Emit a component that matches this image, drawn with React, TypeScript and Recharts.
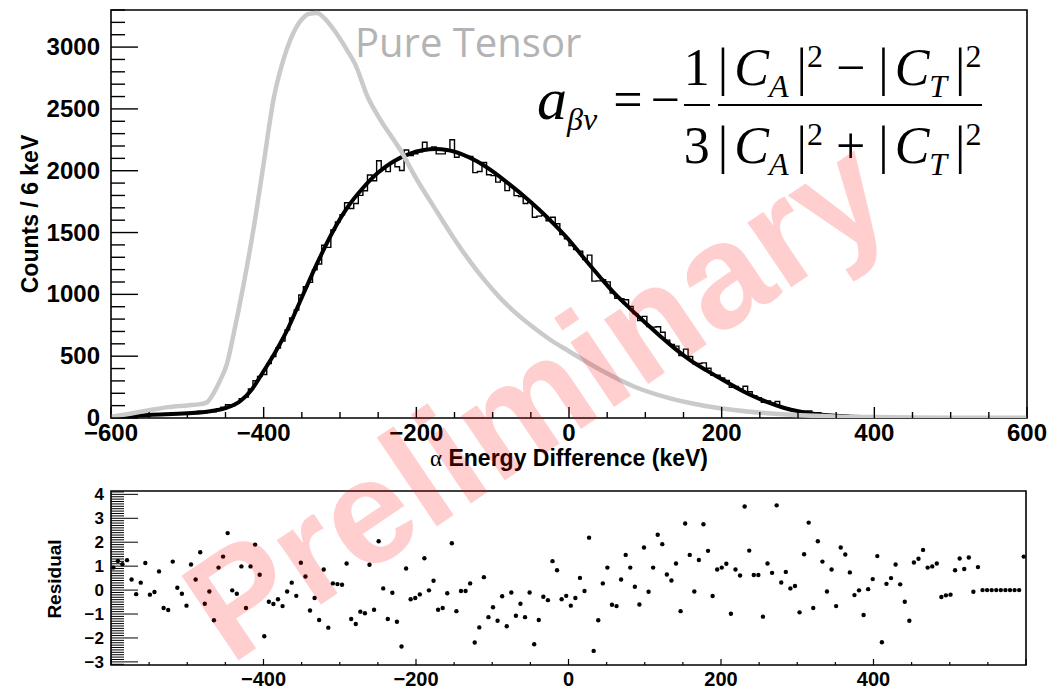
import React from 'react';
import {
  ComposedChart,
  Line,
  Scatter,
  XAxis,
  YAxis,
  ReferenceArea,
} from 'recharts';

// histogram: 6 keV bins, first bin centred at -597 keV
const BIN_START = -597;
const BIN_WIDTH = 6;

const histCounts = [
  8, 11, 13, 17, 17, 17, 21, 28, 24, 27,
  32, 26, 26, 40, 35, 35, 33, 47, 45, 56,
  44, 54, 50, 75, 87, 107, 100, 118, 157, 170,
  235, 301, 337, 352, 440, 497, 566, 623, 713, 809,
  873, 995, 1063, 1097, 1199, 1245, 1397, 1380, 1521, 1585,
  1644, 1741, 1694, 1735, 1801, 1838, 1966, 1919, 2081, 2023,
  1993, 2067, 2032, 2002, 2168, 2122, 2137, 2154, 2230, 2172,
  2193, 2136, 2136, 2161, 2251, 2109, 2133, 2118, 2116, 1985,
  1994, 2066, 1967, 1960, 1908, 1924, 1839, 1871, 1799, 1791,
  1735, 1746, 1624, 1633, 1639, 1596, 1624, 1571, 1483, 1449,
  1394, 1363, 1349, 1282, 1317, 1107, 1109, 1119, 1101, 1010,
  969, 964, 956, 903, 844, 788, 822, 740, 735, 738,
  694, 630, 595, 581, 505, 557, 497, 439, 441, 446,
  402, 345, 346, 323, 304, 248, 256, 234, 257, 212,
  180, 164, 128, 138, 120, 133, 90, 84, 69, 60,
  45, 56, 58, 31, 42, 33, 24, 25, 15, 23,
  20, 15, 10, 9, 5, 7, 7, 8, 0, 4,
  4, 5, 2, 1, 0, 4, 2, 3, 2, 2,
  2, 1, 1, 1, 1, 1, 1, 1, 0, 1,
  0, 0, 0, 0, 0, 0, 0, 0, 0, 1,
];

const residuals = [
  0.94, 1.22, 1.08, 1.25, 0.44, -0.17, 0.31, 1.13, -0.19, -0.08,
  0.78, -0.75, -0.83, 1.19, 0.1, -0.15, -0.65, 1.07, 0.44, 1.58,
  -0.57, -0.06, -1.26, 0.94, 1.4, 2.38, -0.01, -0.15, 0.99, -0.75,
  0.99, 1.9, 0.64, -1.93, -0.49, -0.58, -0.38, -0.67, -0.06, 0.31,
  -0.24, 1.14, 0.57, -0.85, -0.33, -1.25, 0.86, -1.57, 0.28, 0.25,
  0.22, 1.11, -1.21, -1.42, -0.9, -0.97, 1.06, -0.82, 2.04, 0.07,
  -1.21, -0.11, -1.32, -2.36, 0.9, -0.38, -0.33, -0.18, 1.33, -0.01,
  0.39, -0.82, -0.75, -0.13, 1.96, -0.88, -0.04, -0.04, 0.28, -2.19,
  -1.56, 0.54, -1.13, -0.72, -1.28, -0.26, -1.51, -0.1, -1.07, -0.57,
  -1.13, -0.1, -2.26, -1.25, -0.28, -0.42, 1.21, 0.83, -0.38, -0.24,
  -0.65, -0.33, 0.51, -0.04, 2.19, -2.54, -1.26, 0.28, 0.94, -0.61,
  -0.67, 0.44, 1.47, 0.94, 0.14, -0.6, 1.78, -0.07, 0.94, 2.31,
  1.92, 0.65, 0.4, 1.11, -0.88, 2.78, 1.47, -0.06, 1.26, 2.75,
  1.64, -0.25, 0.86, 0.94, 1.1, -0.99, 0.86, 0.61, 3.49, 1.65,
  0.63, 0.63, -1.11, 1.11, 0.72, 3.54, 0.32, 0.76, 0.07, 0.17,
  -0.93, 1.5, 2.82, -0.75, 2.04, 1.19, -0.06, 0.86, -0.67, 1.78,
  1.49, 0.74, -0.21, -0.01, -1.04, 0.04, 0.46, 1.42, -2.18, 0.26,
  0.5, 1.07, 0.24, -0.49, -1.28, 1.15, 1.31, 1.68, 0.94, 0.99,
  1.11, -0.29, -0.22, -0.19, 0.83, 1.32, 0.88, 1.36, -0.07, 0.96,
  0, 0, 0, 0, 0, 0, 0, 0, 0, 1.4,
];

// fitted curve (black)
const fitX = [-600, -550, -500, -470, -450, -430, -415, -400, -385, -370, -350, -330, -310, -290, -270, -250, -230, -210, -190, -175, -160, -140, -120, -100, -80, -60, -40, -20, 0, 20, 40, 60, 80, 100, 120, 140, 160, 180, 200, 220, 240, 260, 280, 300, 320, 350, 400, 450, 500, 600];
const fitY = [5, 25, 38, 55, 80, 140, 235, 380, 530, 700, 975, 1250, 1500, 1705, 1860, 1985, 2075, 2135, 2168, 2175, 2168, 2133, 2075, 1995, 1900, 1800, 1690, 1570, 1440, 1290, 1145, 1005, 885, 770, 660, 555, 462, 385, 313, 243, 180, 128, 85, 55, 35, 18, 5, 1, 0, 0];

// pure tensor prediction (grey)
const tensorX = [-600, -575, -550, -525, -500, -483, -474, -466, -457, -448, -439, -426, -413, -400, -387, -375, -365, -352, -340, -330, -320, -308, -291, -280, -264, -247, -221, -199, -177, -155, -134, -112, -90, -68, -46, -25, 0, 41, 85, 129, 172, 216, 260, 303, 347, 400, 450, 500, 600];
const tensorY = [10, 35, 62, 88, 102, 112, 128, 196, 304, 440, 690, 1090, 1540, 2060, 2580, 2880, 3060, 3210, 3270, 3275, 3230, 3140, 2978, 2860, 2600, 2411, 2168, 1925, 1708, 1493, 1303, 1125, 970, 840, 730, 635, 540, 390, 255, 165, 105, 65, 38, 22, 13, 8, 5, 3, 2];

// axis ticks
const topXTicks = Array.from({ length: 25 }, (_, i) => -600 + 50 * i);
const topYTicks = Array.from({ length: 34 }, (_, i) => 100 * i);
const resXTicks = topXTicks;
const resYTicks = Array.from({ length: 73 }, (_, i) => (i - 31) / 10);

const histData = histCounts.map((c, i) => ({ x: BIN_START + BIN_WIDTH * i, y: c }));
const resData = residuals.map((r, i) => ({ x: BIN_START + BIN_WIDTH * i, r }));
const fitData = fitX.map((x, i) => ({ x, y: fitY[i] }));
const tensorData = tensorX.map((x, i) => ({ x, y: tensorY[i] }));

const SANS = '"Liberation Sans", Arial, Helvetica, sans-serif';
const SERIF = '"Liberation Serif", "Times New Roman", serif';

const fmt = (v: number) => (v < 0 ? `\u2212${Math.abs(v)}` : `${v}`);

const Y_MARGIN = 11;
const X_MARGIN = 6;

const TopYTick = (props: any) => {
  const { x, y, payload } = props;
  const v = payload.value;
  const ax = x + Y_MARGIN;
  const major = v % 500 === 0;
  return (
    <g>
      <line x1={ax} x2={ax + (major ? 27 : 14)} y1={y} y2={y} stroke="#000" strokeWidth={1.4} />
      {major && (
        <text x={x} y={y} dy={8} textAnchor="end" fontSize={24} fontWeight="bold" fontFamily={SANS} fill="#000">
          {v}
        </text>
      )}
    </g>
  );
};

const TopXTick = (props: any) => {
  const { x, y, payload } = props;
  const v = payload.value;
  const ay = y - X_MARGIN;
  const major = v % 200 === 0;
  return (
    <g>
      <line x1={x} x2={x} y1={ay} y2={ay - (major ? 11 : 6)} stroke="#000" strokeWidth={1.4} />
      {major && (
        <text x={x} y={y} dy={17} textAnchor="middle" fontSize={24} fontWeight="bold" fontFamily={SANS} fill="#000">
          {fmt(v)}
        </text>
      )}
    </g>
  );
};

const RES_Y_MARGIN = 7;
const RES_X_MARGIN = 4;

const ResYTick = (props: any) => {
  const { x, y, payload } = props;
  const k = Math.round(payload.value * 10);
  const ax = x + RES_Y_MARGIN;
  const major = k % 10 === 0;
  return (
    <g>
      <line x1={ax} x2={ax + (major ? 27 : 13)} y1={y} y2={y} stroke="#000" strokeWidth={1} />
      {major && (
        <text x={x} y={y} dy={6} textAnchor="end" fontSize={17} fontWeight="bold" fontFamily={SANS} fill="#000">
          {fmt(k / 10)}
        </text>
      )}
    </g>
  );
};

const ResXTick = (props: any) => {
  const { x, y, payload } = props;
  const v = payload.value;
  const ay = y - RES_X_MARGIN;
  const major = v % 200 === 0;
  const labelled = major && Math.abs(v) < 600;
  return (
    <g>
      <line x1={x} x2={x} y1={ay} y2={ay - (major ? 6 : 3)} stroke="#000" strokeWidth={1.2} />
      {labelled && (
        <text x={x} y={y} dy={17} textAnchor="middle" fontSize={20} fontWeight="bold" fontFamily={SANS} fill="#000">
          {fmt(v)}
        </text>
      )}
    </g>
  );
};

const ResDot = (p: any) => <circle cx={p.cx} cy={p.cy} r={2.2} fill="#000" />;

const Frac = ({ num, den }: { num: React.ReactNode; den: React.ReactNode }) => (
  <span style={{ display: 'inline-flex', flexDirection: 'column', alignItems: 'stretch', margin: '0 4px', position: 'relative', top: 8 }}>
    <span style={{ lineHeight: 1, paddingBottom: 10, textAlign: 'center', whiteSpace: 'nowrap' }}>{num}</span>
    <span style={{ lineHeight: 1, paddingTop: 14, borderTop: '2px solid #000', textAlign: 'center', whiteSpace: 'nowrap' }}>{den}</span>
  </span>
);

const Abs = ({ sub }: { sub: string }) => (
  <span>
    |<i style={{ marginLeft: 6 }}>C</i>
    <span style={{ fontSize: 32, fontStyle: 'italic', position: 'relative', top: 12 }}>{sub}</span>
    <span style={{ marginLeft: 8 }}>|</span>
    <span style={{ fontSize: 32, position: 'relative', top: -18 }}>2</span>
  </span>
);

export default function App() {
  return (
    <div style={{ position: 'absolute', left: 0, top: 0, width: 1055, height: 687, background: '#fff', overflow: 'hidden' }}>
      <div style={{ position: 'absolute', left: 0, top: 0 }}>
        <ComposedChart width={1055} height={470} margin={{ top: 10, right: 28, bottom: 22, left: 51 }}>
          <XAxis
            dataKey="x"
            type="number"
            domain={[-600, 600]}
            ticks={topXTicks}
            interval={0}
            height={30}
            tickSize={0}
            tickMargin={X_MARGIN}
            axisLine={false}
            tick={TopXTick}
            allowDataOverflow
          />
          <YAxis
            type="number"
            domain={[0, 3300]}
            ticks={topYTicks}
            interval={0}
            width={60}
            tickSize={0}
            tickMargin={Y_MARGIN}
            axisLine={false}
            tick={TopYTick}
            allowDataOverflow
          />
          <ReferenceArea x1={-600} x2={600} y1={0} y2={3300} fill="none" stroke="#000" strokeWidth={1.6} />
          <Line data={histData} dataKey="y" type="step" stroke="#000" strokeWidth={1.4} dot={false} isAnimationActive={false} />
          <Line data={fitData} dataKey="y" type="monotone" stroke="#000" strokeWidth={4} dot={false} isAnimationActive={false} />
          <Line data={tensorData} dataKey="y" type="monotone" stroke="#cacaca" strokeWidth={4.5} dot={false} isAnimationActive={false} />
        </ComposedChart>
      </div>

      <div style={{ position: 'absolute', left: 0, top: 480 }}>
        <ComposedChart width={1055} height={207} margin={{ top: 11, right: 29, bottom: 0, left: 51 }}>
          <XAxis
            dataKey="x"
            type="number"
            domain={[-600, 600]}
            ticks={resXTicks}
            interval={0}
            height={22}
            tickSize={0}
            tickMargin={RES_X_MARGIN}
            axisLine={false}
            tick={ResXTick}
            allowDataOverflow
          />
          <YAxis
            dataKey="r"
            type="number"
            domain={[-3.13, 4.14]}
            ticks={resYTicks}
            interval={0}
            width={60}
            tickSize={0}
            tickMargin={RES_Y_MARGIN}
            axisLine={false}
            tick={ResYTick}
            allowDataOverflow
          />
          <ReferenceArea x1={-600} x2={600} y1={-3.13} y2={4.14} fill="none" stroke="#000" strokeWidth={1.6} />
          <Scatter data={resData} dataKey="r" shape={ResDot} isAnimationActive={false} />
        </ComposedChart>
      </div>

      {/* axis titles */}
      <div style={{ position: 'absolute', left: 30, top: 214, transform: 'translate(-50%, -50%) rotate(-90deg)', whiteSpace: 'nowrap', fontFamily: SANS, fontWeight: 'bold', fontSize: 23 }}>
        Counts / 6 keV
      </div>
      <div style={{ position: 'absolute', left: 569, top: 458, transform: 'translate(-50%, -50%)', whiteSpace: 'nowrap', fontFamily: SANS, fontWeight: 'bold', fontSize: 23 }}>
        <span style={{ fontWeight: 'normal', fontFamily: SERIF }}>α</span> Energy Difference (keV)
      </div>
      <div style={{ position: 'absolute', left: 55, top: 579, transform: 'translate(-50%, -50%) rotate(-90deg)', whiteSpace: 'nowrap', fontFamily: SANS, fontWeight: 'bold', fontSize: 19 }}>
        Residual
      </div>

      {/* legend text */}
      <div style={{ position: 'absolute', left: 355, top: 14, whiteSpace: 'nowrap', fontFamily: '"Open Sans", sans-serif', fontSize: 40, color: '#b3b3b3' }}>
        Pure Tensor
      </div>

      {/* formula */}
      <div style={{ position: 'absolute', left: 537, top: 34, display: 'flex', alignItems: 'center', fontFamily: SERIF, fontSize: 52, color: '#000', whiteSpace: 'nowrap' }}>
        <span style={{ fontStyle: 'italic', fontSize: 60 }}>a</span>
        <span style={{ fontStyle: 'italic', fontSize: 32, position: 'relative', top: 20 }}>βν</span>
        <span style={{ marginLeft: 16 }}>=</span>
        <span style={{ marginLeft: 8 }}>−</span>
        <Frac num="1" den="3" />
        <Frac
          num={<><Abs sub="A" /> − <Abs sub="T" /></>}
          den={<><Abs sub="A" /> + <Abs sub="T" /></>}
        />
      </div>

      {/* watermark */}
      <div style={{ position: 'absolute', left: 536, top: 398, transform: 'translate(-50%, -50%) rotate(-34deg)', whiteSpace: 'nowrap', fontFamily: SANS, fontWeight: 'bold', fontSize: 148, lineHeight: 1, color: 'rgba(255, 0, 0, 0.19)', pointerEvents: 'none' }}>
        Preliminary
      </div>
    </div>
  );
}
